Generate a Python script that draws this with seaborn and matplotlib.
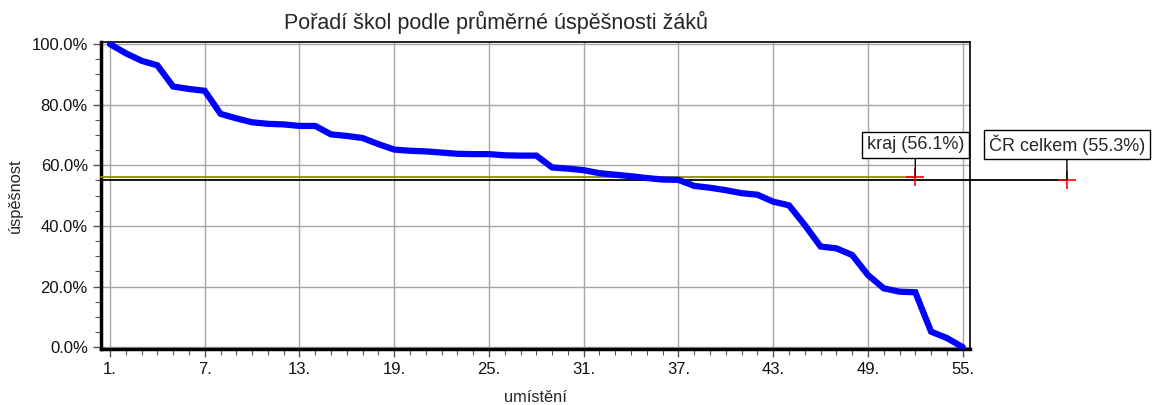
import numpy as np
import pandas as pd
import seaborn as sns
import matplotlib.pyplot as plt
from matplotlib.ticker import MultipleLocator, FixedLocator, PercentFormatter

# ranking position of school and its average success rate (%)
positions = list(range(1, 56))
success = [100.0, 97.0, 94.5, 93.0, 86.0, 85.2, 84.6, 77.0, 75.5, 74.2,
           73.7, 73.5, 73.0, 73.0, 70.2, 69.7, 69.0, 67.0, 65.2, 64.8,
           64.6, 64.2, 63.8, 63.7, 63.7, 63.3, 63.2, 63.2, 59.3, 58.9,
           58.4, 57.4, 56.9, 56.4, 55.8, 55.3, 55.2, 53.2, 52.6, 51.8,
           50.8, 50.3, 48.0, 46.8, 40.3, 33.2, 32.6, 30.4, 23.8, 19.4,
           18.3, 18.1, 5.1, 3.0, 0.0]

xticks = [1, 7, 13, 19, 25, 31, 37, 43, 49, 55]
xtick_labels = [f"{t}." for t in xticks]

ref_names = ["kraj", "ČR celkem"]
ref_values = [56.1, 55.3]
ref_pos = [52.0, 61.6]
ref_colors = ["#8c8c00", "black"]

df = pd.DataFrame({"umisteni": positions, "uspesnost": success})

sns.set_style("white")
plt.rcParams["font.family"] = ["Liberation Sans", "DejaVu Sans"]

fig = plt.figure(figsize=(11.54, 4.05), dpi=100)
ax = fig.add_axes([0.0875, 0.138, 0.753, 0.758])

# reference lines (ČR drawn first, kraj on top)
for name, val, xp, col in reversed(list(zip(ref_names, ref_values, ref_pos, ref_colors))):
    ax.plot([0.43, xp], [val, val], color=col, lw=1.3, clip_on=False, zorder=3)
    ax.plot([xp], [val], marker="+", color="red", ms=13, mew=1.2, clip_on=False, zorder=5)
    ax.annotate(f"{name} ({val:.1f}%)", xy=(xp, val), xytext=(xp, 66.8),
                textcoords="data", ha="center", va="center", fontsize=13,
                bbox=dict(boxstyle="square,pad=0.25", fc="white", ec="black", lw=1),
                arrowprops=dict(arrowstyle="-", color="black", lw=1, shrinkA=0, shrinkB=0),
                annotation_clip=False, zorder=6)

sns.lineplot(data=df, x="umisteni", y="uspesnost", ax=ax, color="#0000ff",
             lw=4.5, zorder=4, solid_joinstyle="miter")

ax.set_xlim(0.43, 55.46)
ax.set_ylim(-0.66, 100.66)
ax.xaxis.set_major_locator(FixedLocator(xticks))
ax.set_xticklabels(xtick_labels)
ax.xaxis.set_minor_locator(MultipleLocator(1))
ax.yaxis.set_major_locator(MultipleLocator(20))
ax.yaxis.set_minor_locator(MultipleLocator(5))
ax.yaxis.set_major_formatter(PercentFormatter(decimals=1))

ax.grid(True, which="major", color="#a6a6a6", lw=1)
ax.tick_params(which="both", direction="out", color="#555555", labelsize=12, labelcolor="#111111")
ax.tick_params(which="major", length=6, width=1, left=True, bottom=True)
ax.tick_params(which="minor", length=4, width=0.8, left=True, bottom=True)

for side in ["top", "right"]:
    ax.spines[side].set_color("black")
    ax.spines[side].set_linewidth(1.2)
for side in ["left", "bottom"]:
    ax.spines[side].set_color("black")
    ax.spines[side].set_linewidth(2.5)

ax.set_xlabel("umístění", fontsize=11.8, labelpad=9)
ax.set_ylabel("úspěšnost", fontsize=11.8, labelpad=6)
fig.text(496 / 1154, 1 - 22 / 405, "Pořadí škol podle průměrné úspěšnosti žáků",
         ha="center", va="center", fontsize=15.5)

fig.savefig("out.png", dpi=100)
